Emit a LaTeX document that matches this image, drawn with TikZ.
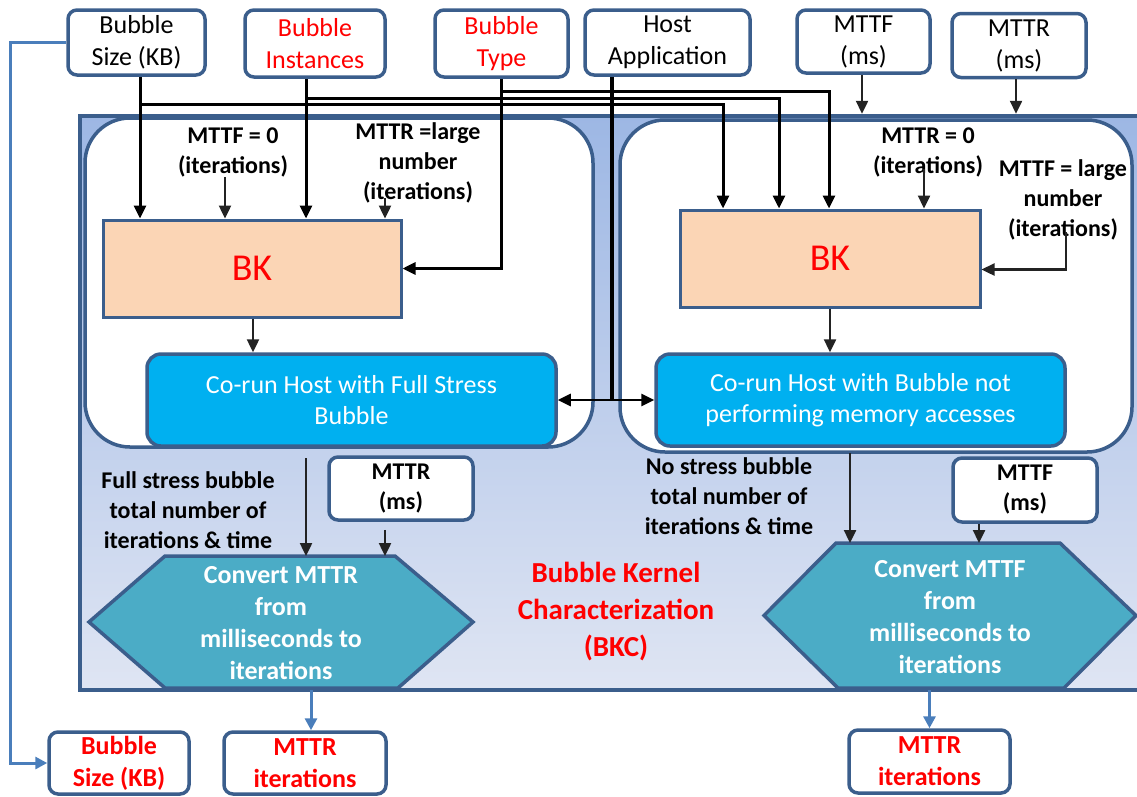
\documentclass[tikz,border=0pt]{standalone}
\usepackage{fontspec}
\setmainfont{Carlito}
\usetikzlibrary{arrows.meta,calc}
\definecolor{bord}{RGB}{59,94,140}
\definecolor{bkfill}{RGB}{251,213,181}
\definecolor{corun}{RGB}{0,176,240}
\definecolor{hexf}{RGB}{75,172,198}
\definecolor{barrow}{RGB}{74,126,187}
\definecolor{dk}{RGB}{35,35,35}
\definecolor{bgtop}{RGB}{157,183,228}
\definecolor{bgbot}{RGB}{223,229,243}
\newcommand\ftop{\fontsize{26}{32}\selectfont}
\newcommand\flab{\fontsize{24}{30}\selectfont\bfseries}
\newcommand\fcor{\fontsize{26}{31}\selectfont}
\newcommand\fhex{\fontsize{26}{32}\selectfont\bfseries}
\newcommand\fbkc{\fontsize{29}{37}\selectfont\bfseries}
\newcommand\fbk{\fontsize{38}{40}\selectfont}
\begin{document}
\begin{tikzpicture}[x=1pt,y=-1pt,
  inbox/.style={draw=bord,line width=3.5pt,rounded corners=9pt,fill=white,align=center,inner sep=0pt,font=\ftop},
  panel/.style={draw=bord,line width=3.5pt,rounded corners=45pt,fill=white,inner sep=0pt},
  bkbox/.style={draw=bord,line width=3pt,fill=bkfill,text=red,font=\fbk,inner sep=0pt},
  corunbox/.style={draw=bord,line width=3.5pt,fill=corun,text=white,rounded corners=14pt,font=\fcor,align=center,inner sep=0pt},
  lab/.style={font=\flab,align=center,inner sep=0pt},
  hexst/.style={draw=bord,line width=3.5pt,fill=hexf,line join=miter},
  hextext/.style={font=\fhex,text=white,align=center,inner sep=0pt},
  arr/.style={draw=dk,line width=2.4pt,-{Triangle[length=13pt,width=12pt]}},
  bus/.style={draw=black,line width=3pt,-{Triangle[length=13pt,width=12pt]}},
  busplain/.style={draw=black,line width=3pt},
  arrtwo/.style={draw=black,line width=2.8pt,{Triangle[length=13pt,width=12pt]}-{Triangle[length=13pt,width=12pt]}},
  barr/.style={draw=barrow,line width=3pt,-{Triangle[length=12pt,width=12pt]}}
]
\useasboundingbox (0,0) rectangle (1137,796);
\clip (0,0) rectangle (1137,796);
% outer characterization box
\node[draw=bord,line width=4.5pt,top color=bgtop,bottom color=bgbot,minimum width=1080pt,minimum height=574pt,inner sep=0pt] (bkc) at (620,403) {};
% panels
\node[panel,minimum width=508pt,minimum height=329pt] (pL) at (339,282.5) {};
\node[panel,minimum width=512pt,minimum height=332pt] (pR) at (876,286) {};
% top inputs
\node[inbox,minimum width=137pt,minimum height=65pt] (sz) at (136.5,42.5) {Bubble\\Size (KB)};
\node[inbox,minimum width=140pt,minimum height=67pt,text=red] (inst) at (315,43.5) {Bubble\\Instances};
\node[inbox,minimum width=133pt,minimum height=67pt,text=red] (typ) at (501.5,43.5) {Bubble\\Type};
\node[inbox,minimum width=165pt,minimum height=65pt] (host) at (667.5,42.5) {Host\\Application};
\node[inbox,minimum width=133pt,minimum height=63pt] (mttf) at (863.5,41.5) {MTTF\\(ms)};
\node[inbox,minimum width=134pt,minimum height=64pt] (mttr) at (1019,45.5) {MTTR\\(ms)};
% BK boxes
\node[bkbox,minimum width=298pt,minimum height=97pt] (bk1) at (252,268.5) {BK};
\node[bkbox,minimum width=300pt,minimum height=97pt] (bk2) at (830,258.5) {BK};
% co-run boxes
\node[corunbox,minimum width=409pt,minimum height=92pt] (cr1) at (351.5,400) {Co-run Host with Full Stress\\Bubble};
\node[corunbox,minimum width=409pt,minimum height=92pt] (cr2) at (860.5,400) {Co-run Host with Bubble not\\performing memory accesses};
% labels in panels
\node[lab] (lA) at (233,152) {MTTF = 0\\(iterations)};
\node[lab] (lB) at (418,163) {MTTR =large\\number\\(iterations)};
\node[lab] (lC) at (928,152) {MTTR = 0\\(iterations)};
\node[lab] (lD) at (1063,200) {MTTF = large\\number\\(iterations)};
% hexagons
\draw[hexst] (89,622) -- (165,556) -- (395,556) -- (473,622) -- (398,688) -- (165,688) -- cycle;
\node[hextext] (hxL) at (281,623) {Convert MTTR\\from\\milliseconds to\\iterations};
\draw[hexst] (764,615.5) -- (836,543) -- (1060,543) -- (1136,615.5) -- (1064,688) -- (838,688) -- cycle;
\node[hextext] (hxR) at (950,617) {Convert MTTF\\from\\milliseconds to\\iterations};
% inner ms boxes
\node[inbox,font=\flab,minimum width=144pt,minimum height=63pt] (mttrIn) at (401,488.5) {MTTR\\(ms)};
\node[inbox,font=\flab,minimum width=144pt,minimum height=64pt] (mttfIn) at (1025,490) {MTTF\\(ms)};
% text labels below panels
\node[lab] (lE) at (188,510) {Full stress bubble\\total number of\\iterations \& time};
\node[lab] (lF) at (729,496) {No stress bubble\\total number of\\iterations \& time};
\node[font=\fbkc,text=red,align=center,inner sep=0pt] (bkct) at (616,612) {Bubble Kernel\\Characterization\\(BKC)};
% outputs
\node[inbox,font=\fhex,text=red,minimum width=140pt,minimum height=62pt] (bsz2) at (119,763) {Bubble\\Size (KB)};
\node[inbox,font=\fhex,text=red,minimum width=162pt,minimum height=62pt] (mttrL) at (305,763) {MTTR\\iterations};
\node[inbox,font=\fhex,text=red,minimum width=161pt,minimum height=63pt] (mttrR) at (929.5,761.5) {MTTR\\iterations};
% ---- connectors ----
\coordinate (szB) at ($(sz.south)+(3.5,0)$);
\coordinate (inB) at ($(inst.south)+(-9,0)$);
\draw[bus] (szB) -- (szB |- bk1.north);
\draw[bus] (inB) -- (inB |- bk1.north);
\draw[bus] (typ.south) |- (bk1.east);
\coordinate (jS) at ($(sz.south)+(3.5,28)$);
\coordinate (jI) at ($(inst.south)+(-9,19.5)$);
\coordinate (jT) at ($(typ.south)+(0,13)$);
\draw[bus] (jS) -| ($(bk2.north)+(-107,0)$);
\draw[bus] (jI) -| ($(bk2.north)+(-51,0)$);
\draw[bus] (jT) -| ($(bk2.north)+(-1,0)$);
% host
\coordinate (hB) at ($(host.south)+(-55.5,0)$);
\draw[busplain,line width=3.5pt] (hB) -- (hB |- cr1.east);
\draw[arrtwo] (cr1.east) -- (cr2.west);
% ms inputs into outer box
\coordinate (mfB) at ($(mttf.south)+(-1.5,0)$);
\draw[arr] (mfB) -- (mfB |- bkc.north);
\coordinate (mrB) at ($(mttr.south)+(-3,0)$);
\draw[arr] (mrB) -- (mrB |- bkc.north);
% label arrows
\coordinate (lAB) at ($(lA.south)+(-8,0)$);
\draw[arr] (lAB) -- (lAB |- bk1.north);
\coordinate (lBB) at ($(lB.south)+(-33,-5)$);
\draw[arr] (lBB) -- (lBB |- bk1.north);
\coordinate (lCB) at ($(lC.south)+(-4,-8)$);
\draw[arr] (lCB) -- (lCB |- bk2.north);
\coordinate (lDB) at ($(lD.south)+(3,-8)$);
\coordinate (bk2in) at ($(bk2.east)+(0,11)$);
\draw[arr] (lDB) |- (bk2in);
% BK to co-run
\coordinate (bk1B) at ($(bk1.south)+(1,0)$);
\draw[arr] (bk1B) -- (bk1B |- cr1.north);
\draw[arr] (bk2.south) -- (bk2.south |- cr2.north);
% into hexagons
\coordinate (fsA) at (306,458);
\coordinate (hLT) at (306,556);
\draw[arr] (fsA) -- (hLT);
\coordinate (msA) at ($(mttrIn.south)+(-16,8)$);
\draw[arr] (msA) -- (msA |- hLT);
\coordinate (nsA) at (850,453);
\coordinate (hRT) at (850,543);
\draw[arr] (nsA) -- (hRT);
\coordinate (mfA) at ($(mttfIn.south)+(-46,0)$);
\draw[arr] (mfA) -- (mfA |- hRT);
% blue outputs
\coordinate (hLB) at (311,690);
\draw[barr] (hLB) -- (hLB |- mttrL.north);
\coordinate (hRB) at (929.5,690);
\draw[barr] (hRB) -- (mttrR.north);
\draw[barr] (sz.west) -- ++(-56,0) |- (bsz2.west);
\end{tikzpicture}
\end{document}
